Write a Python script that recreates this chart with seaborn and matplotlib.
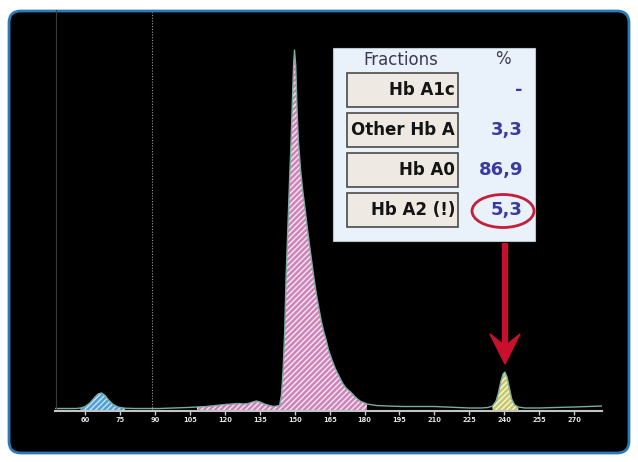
import numpy as np
import matplotlib
matplotlib.use('Agg')
import matplotlib.pyplot as plt
import seaborn as sb
from matplotlib.patches import FancyBboxPatch, Rectangle, Ellipse, Polygon

# chromatogram trace (retention time vs detector signal)
ret_time = [47, 52, 56, 58, 60, 62, 64, 65.5, 67, 68.5,
            70, 72, 74, 77, 81, 86, 92, 98, 104, 108,
            112, 116, 120, 123, 126, 128, 130, 132, 133.5, 135,
            137, 139, 141, 143.5, 144.3, 145, 145.7, 146.3, 147, 147.7,
            148.4, 149, 149.5, 149.9, 150.4, 151, 151.6, 152.5, 153.5, 154.5,
            155.5, 156.5, 157.5, 158.5, 159.5, 160.5, 161.5, 162.5, 163.5, 164.5,
            166, 167.5, 169, 170.5, 172, 174, 176, 178, 181, 185,
            190, 196, 200, 205, 210, 215, 220, 225, 230, 233,
            235, 236.5, 237.5, 238.5, 239.5, 240.3, 241.2, 242.2, 243.2, 244.5,
            246, 249, 255, 262, 270, 276, 282]
signal = [1.5, 1.5, 1.5, 2, 3.5, 7, 12.5, 16, 17, 14.5,
          10, 5.5, 3, 1.8, 1.5, 1.5, 1.5, 2, 2.5, 3,
          3.5, 4.5, 5.5, 6, 6.5, 6, 6.5, 8, 9, 8,
          6, 4.5, 3.5, 4.5, 15, 40, 80, 135, 180, 225,
          268, 310, 345, 360, 345, 300, 268, 240, 218, 200,
          180, 162, 145, 128, 113, 100, 88, 78, 70, 60,
          50, 41, 34, 27, 22, 18, 13, 9, 6, 4.5,
          4, 3.5, 3.5, 3.5, 3.5, 3, 2.5, 2, 2, 2.5,
          4, 9, 17, 28, 36, 38, 33, 22, 11, 5,
          3, 2, 2, 2.5, 3, 3.5, 4]

x_ticks = [60, 75, 90, 105, 120, 135, 150, 165, 180, 195, 210, 225, 240, 255, 270]
marker_time = 88.5

# shaded peak windows
peak_windows = [(57, 80), (108, 182), (233.5, 247)]
peak_faces = ['#4f9fd6', '#cc84b8', '#c6c66a']
peak_hatch = ['#bfe0f5', '#f4e0ef', '#f4f4d2']

fractions = ['Hb A1c', 'Other Hb A', 'Hb A0', 'Hb A2 (!)']
percent = ['-', '3,3', '86,9', '5,3']

sb.set_style('dark')
plt.rcParams['hatch.linewidth'] = 1.1

fig = plt.figure(figsize=(6.38, 4.62), dpi=100)
fig.patch.set_facecolor('white')

# background: black rounded panel with blue border
bg = fig.add_axes([0, 0, 1, 1], zorder=0)
bg.set_xlim(0, 638)
bg.set_ylim(462, 0)
bg.axis('off')
bg.add_patch(FancyBboxPatch((9, 11), 620, 442, boxstyle='round,pad=0,rounding_size=12',
                            fc='black', ec='#2a7ab8', lw=2))

# the chromatogram itself
ax = fig.add_axes([55/638, 51/462, 547/638, 401/462], zorder=1)
ax.set_facecolor('none')
x = np.array(ret_time)
y = np.array(signal)
for (lo, hi), fc, hc in zip(peak_windows, peak_faces, peak_hatch):
    m = (x >= lo) & (x <= hi)
    ax.fill_between(x[m], y[m], 0, facecolor=fc, edgecolor=hc, hatch='//////', lw=0)
sb.lineplot(x=ret_time, y=signal, ax=ax, color='#78ada0', lw=1)
ax.vlines(marker_time, 0, 398, colors='#9a9a9a', linestyles=(0, (1, 1.5)), lw=0.8)
ax.axvline(47.4, color='#3a3a3a', lw=0.8)
ax.set_xlim(47, 282)
ax.set_ylim(-1, 400)
ax.set_xticks(x_ticks)
ax.set_xticklabels([str(t) for t in x_ticks], fontweight='bold')
ax.set_yticks([])
ax.set_xlabel('')
ax.set_ylabel('')
ax.grid(False)
for s in ['left', 'top', 'right']:
    ax.spines[s].set_visible(False)
ax.spines['bottom'].set_color('#c4c4c4')
ax.spines['bottom'].set_linewidth(1.5)
ax.tick_params(axis='x', bottom=True, length=3, width=1, color='#cccccc', pad=1.5,
               labelsize=4.8, labelcolor='#e6e6e6')

# foreground: results table, ellipse and arrow
fg = fig.add_axes([0, 0, 1, 1], zorder=5)
fg.set_xlim(0, 638)
fg.set_ylim(462, 0)
fg.axis('off')
fg.add_patch(Rectangle((333, 48), 202, 193, fc='#e9f1fa', ec='#b8c4d0', lw=0.8))
fg.text(401, 60, 'Fractions', ha='center', va='center', fontsize=12, color='#3a3a55')
fg.text(503, 59, '%', ha='center', va='center', fontsize=12, color='#3a3a55')
for i, (name, val) in enumerate(zip(fractions, percent)):
    y0 = 73 + i * 40
    fg.add_patch(Rectangle((347, y0), 111, 34, fc='#eee9e3', ec='#4a4a4a', lw=1.2))
    fg.text(455, y0 + 17, name, ha='right', va='center', fontsize=12, fontweight='bold',
            color='#141414')
    fg.text(523, y0 + 17, val, ha='right', va='center', fontsize=13, fontweight='bold',
            color='#3a3a9c')
fg.add_patch(Ellipse((503, 211), 62, 33, fill=False, ec='#c41e3a', lw=2))
fg.plot([505, 505], [243, 348], color='#c8102e', lw=4.5, solid_capstyle='butt')
fg.add_patch(Polygon([(490, 334), (505, 364), (520, 334), (505, 346)], closed=True,
                     fc='#c8102e', ec='#c8102e', lw=1))

plt.savefig('out.png', dpi=100, facecolor='white')
